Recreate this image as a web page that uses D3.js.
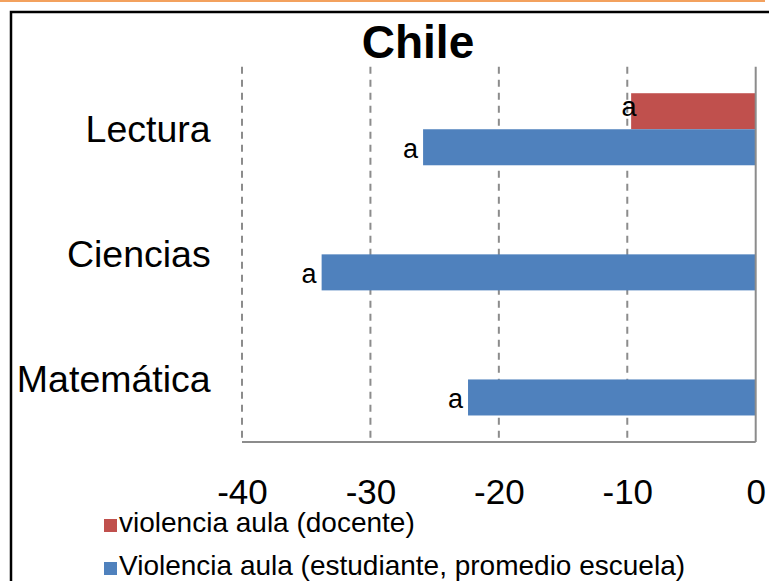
<!DOCTYPE html>
<html>
<head>
<meta charset="utf-8">
<script src="https://cdn.jsdelivr.net/npm/d3@7"></script>
<style>
  body { margin: 0; background: #fff; }
  text { font-family: "Liberation Sans", Arial, sans-serif; fill: #000; }
</style>
</head>
<body>
<div id="chart"></div>
<script>
// categories top to bottom
const categories = ['Lectura', 'Ciencias', 'Matemática'];
const docente = [-9.7, null, null];
const estudiante = [-25.9, -33.8, -22.4];
const barLabels = ['a', 'a', 'a'];
const xTicks = [-40, -30, -20, -10, 0];
const seriesNames = ['violencia aula (docente)', 'Violencia aula (estudiante, promedio escuela)'];
const seriesColors = ['#C0504D', '#4F81BD'];

const width = 769, height = 581;
const plot = { left: 242, right: 755.7, top: 66.7, bottom: 442 };

const svg = d3.select('#chart')
  .append('svg')
  .attr('width', width)
  .attr('height', height);

// orange strip on top and the black frame
svg.append('line')
  .attr('x1', 0).attr('x2', 765).attr('y1', 1).attr('y2', 1)
  .attr('stroke', '#F3A15E').attr('stroke-width', 2);
svg.append('path')
  .attr('d', 'M11,585 V12 H775')
  .attr('fill', 'none').attr('stroke', '#000').attr('stroke-width', 2.5);

const x = d3.scaleLinear().domain([-40, 0]).range([plot.left, plot.right]);
const y = d3.scaleBand().domain(categories).range([plot.top, plot.bottom]);
const barH = y.bandwidth() * 0.288;

// dashed gridlines
svg.append('g')
  .selectAll('line')
  .data(xTicks.filter(d => d !== 0))
  .enter()
  .append('line')
  .attr('x1', d => x(d)).attr('x2', d => x(d))
  .attr('y1', plot.top).attr('y2', plot.bottom)
  .attr('stroke', '#8c8c8c').attr('stroke-width', 2)
  .attr('stroke-dasharray', '7,6');

// bars
const rows = categories.map((c, i) => ({ cat: c, doc: docente[i], est: estudiante[i], lab: barLabels[i] }));

svg.append('g')
  .selectAll('rect')
  .data(rows.filter(d => d.doc !== null))
  .enter()
  .append('rect')
  .attr('x', d => x(d.doc))
  .attr('width', d => x(0) - x(d.doc))
  .attr('y', d => y(d.cat) + y.bandwidth() / 2 - barH)
  .attr('height', barH)
  .attr('fill', seriesColors[0]);

svg.append('g')
  .selectAll('rect')
  .data(rows)
  .enter()
  .append('rect')
  .attr('x', d => x(d.est))
  .attr('width', d => x(0) - x(d.est))
  .attr('y', d => y(d.cat) + y.bandwidth() / 2)
  .attr('height', barH)
  .attr('fill', seriesColors[1]);

// bar labels
svg.append('g')
  .selectAll('text')
  .data(rows.filter(d => d.doc !== null))
  .enter()
  .append('text')
  .attr('x', d => x(d.doc) - 2)
  .attr('y', d => y(d.cat) + y.bandwidth() / 2 - barH / 2 + 5)
  .attr('text-anchor', 'middle')
  .attr('font-size', 27)
  .text(d => d.lab);

svg.append('g')
  .selectAll('text')
  .data(rows)
  .enter()
  .append('text')
  .attr('x', d => x(d.est) - 5)
  .attr('y', d => y(d.cat) + y.bandwidth() / 2 + barH / 2 + 11)
  .attr('text-anchor', 'end')
  .attr('font-size', 27)
  .text(d => d.lab);

// axes lines
svg.append('line')
  .attr('x1', x(0)).attr('x2', x(0)).attr('y1', plot.top).attr('y2', plot.bottom)
  .attr('stroke', '#8c8c8c').attr('stroke-width', 2);
svg.append('line')
  .attr('x1', plot.left).attr('x2', x(0)).attr('y1', plot.bottom).attr('y2', plot.bottom)
  .attr('stroke', '#8c8c8c').attr('stroke-width', 2);

// x tick labels
const xAxis = svg.append('g')
  .attr('transform', `translate(0,${plot.bottom})`)
  .call(d3.axisBottom(x).tickValues(xTicks).tickFormat(d => String(d)).tickSize(0).tickPadding(0));
xAxis.select('.domain').remove();
xAxis.selectAll('text')
  .attr('dy', null)
  .attr('y', 62)
  .attr('font-size', 35)
  .attr('font-family', '"Liberation Sans", Arial, sans-serif')
  .attr('fill', '#000');

// category labels
const yAxis = svg.append('g')
  .attr('transform', `translate(${plot.right - 545},0)`)
  .call(d3.axisLeft(y).tickSize(0).tickPadding(0));
yAxis.select('.domain').remove();
yAxis.selectAll('text')
  .attr('dy', null)
  .attr('y', 13)
  .attr('font-size', 37.5)
  .attr('font-family', '"Liberation Sans", Arial, sans-serif')
  .attr('fill', '#000');

// title
svg.append('text')
  .attr('x', 418).attr('y', 58)
  .attr('text-anchor', 'middle')
  .attr('font-size', 46)
  .attr('font-weight', 'bold')
  .text('Chile');

// legend
const legend = svg.append('g')
  .selectAll('g')
  .data(seriesNames)
  .enter()
  .append('g')
  .attr('transform', (d, i) => `translate(104,${519 + i * 43})`);
legend.append('rect')
  .attr('width', 13).attr('height', 13)
  .attr('fill', (d, i) => seriesColors[i]);
legend.append('text')
  .attr('x', 15).attr('y', 13)
  .attr('font-size', 28)
  .text(d => d);
</script>
</body>
</html>
